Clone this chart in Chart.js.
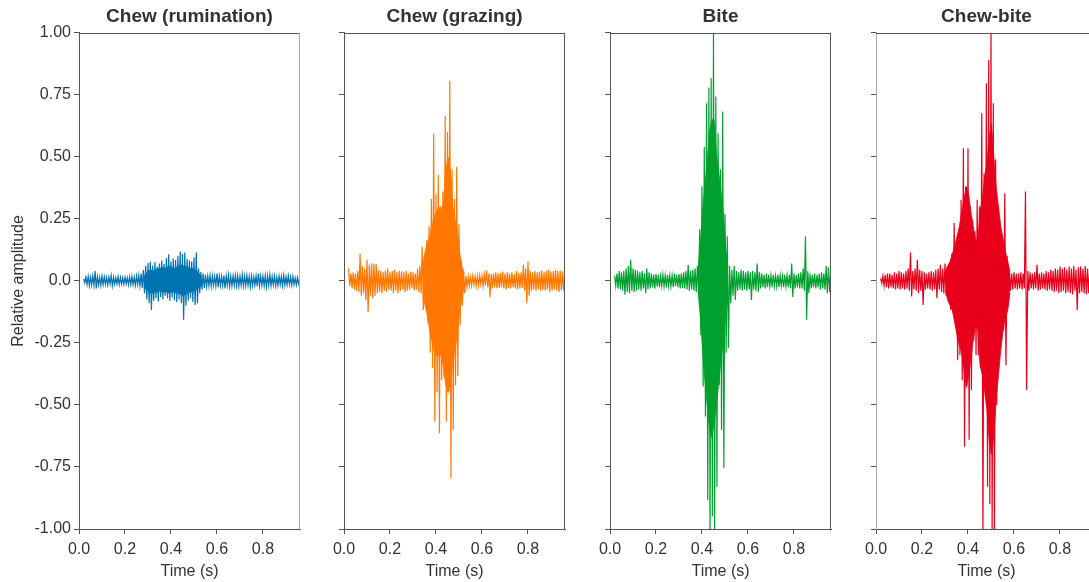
<!DOCTYPE html>
<html><head><meta charset="utf-8">
<script src="https://cdn.jsdelivr.net/npm/chart.js@4.4.1/dist/chart.umd.min.js"></script>
<style>
html,body{margin:0;padding:0;overflow:hidden;background:#fff;width:1089px;height:582px;position:relative;}
canvas{position:absolute;top:0;}
</style></head><body>
<canvas id="c0"></canvas><canvas id="c1"></canvas><canvas id="c2"></canvas><canvas id="c3"></canvas>
<script>
// ---- data ----
const panelTitles = ["Chew (rumination)", "Chew (grazing)", "Bite", "Chew-bite"];
const seriesColors = ["#0173B2", "#FF7700", "#00A02E", "#E8001C"];
const xTickValues = [0, 0.2, 0.4, 0.6, 0.8];
const xTickLabels = ["0.0", "0.2", "0.4", "0.6", "0.8"];
const yTickValues = [-1, -0.75, -0.5, -0.25, 0, 0.25, 0.5, 0.75, 1];
const yTickLabels = ["-1.00", "-0.75", "-0.50", "-0.25", "0.0", "0.25", "0.50", "0.75", "1.00"];
const binStart = 0.02;   // seconds, first bin
const binWidth = 0.01;   // seconds per bin (each bin: max and min amplitude)

// peak envelope per bin (max / min)
const ruminationHi = [
0.008,0.016,0.018,0.015,0.020,0.040,0.017,0.014,0.020,0.016,
0.014,0.016,0.022,0.015,0.013,0.017,0.014,0.012,0.016,0.013,
0.016,0.018,0.015,0.020,0.022,0.030,0.045,0.060,0.072,0.078,
0.062,0.076,0.058,0.070,0.082,0.068,0.092,0.107,0.078,0.090,
0.084,0.100,0.118,0.108,0.114,0.088,0.082,0.078,0.095,0.114,
0.050,0.036,0.030,0.025,0.020,0.022,0.020,0.018,0.030,0.020,
0.018,0.022,0.020,0.025,0.018,0.020,0.022,0.020,0.018,0.025,
0.020,0.022,0.018,0.020,0.016,0.020,0.030,0.020,0.018,0.022,
0.020,0.025,0.018,0.020,0.015,0.020,0.018,0.022,0.016,0.020,
0.015,0.018,0.012,0.014,0.010];
const ruminationLo = [
-0.008,-0.015,-0.020,-0.016,-0.018,-0.030,-0.016,-0.018,-0.015,-0.014,
-0.016,-0.013,-0.020,-0.014,-0.012,-0.015,-0.013,-0.014,-0.012,-0.015,
-0.014,-0.016,-0.018,-0.015,-0.020,-0.028,-0.050,-0.075,-0.090,-0.117,
-0.080,-0.070,-0.083,-0.065,-0.075,-0.060,-0.070,-0.080,-0.068,-0.078,
-0.085,-0.075,-0.090,-0.157,-0.100,-0.080,-0.070,-0.085,-0.097,-0.090,
-0.050,-0.035,-0.028,-0.022,-0.020,-0.022,-0.018,-0.020,-0.025,-0.018,
-0.020,-0.030,-0.018,-0.022,-0.020,-0.018,-0.020,-0.022,-0.018,-0.020,
-0.020,-0.018,-0.025,-0.020,-0.018,-0.022,-0.020,-0.018,-0.020,-0.025,
-0.018,-0.020,-0.016,-0.020,-0.018,-0.015,-0.020,-0.018,-0.016,-0.015,
-0.018,-0.014,-0.016,-0.012,-0.010];

const grazingHi = [
0.050,0.030,0.035,0.030,0.040,0.109,0.060,0.050,0.085,0.065,
0.070,0.070,0.068,0.045,0.040,0.035,0.040,0.050,0.035,0.040,
0.045,0.035,0.040,0.038,0.035,0.040,0.030,0.038,0.035,0.030,
0.050,0.060,0.138,0.100,0.165,0.220,0.330,0.593,0.350,0.427,
0.300,0.360,0.665,0.600,0.806,0.450,0.330,0.460,0.230,0.085,
0.040,0.020,0.018,0.015,0.020,0.018,0.020,0.022,0.020,0.025,
0.042,0.030,0.028,0.030,0.035,0.030,0.032,0.038,0.030,0.035,
0.030,0.035,0.028,0.040,0.032,0.035,0.065,0.050,0.078,0.040,
0.035,0.040,0.035,0.038,0.042,0.035,0.040,0.045,0.038,0.040,
0.045,0.040,0.042,0.038,0.040];
const grazingLo = [
-0.020,-0.030,-0.035,-0.040,-0.045,-0.060,-0.050,-0.077,-0.126,-0.060,
-0.070,-0.060,-0.050,-0.045,-0.050,-0.040,-0.045,-0.035,-0.040,-0.050,
-0.040,-0.050,-0.040,-0.035,-0.045,-0.040,-0.035,-0.030,-0.040,-0.035,
-0.045,-0.050,-0.117,-0.100,-0.170,-0.290,-0.350,-0.567,-0.450,-0.614,
-0.400,-0.386,-0.567,-0.450,-0.796,-0.600,-0.420,-0.383,-0.180,-0.100,
-0.050,-0.025,-0.020,-0.018,-0.015,-0.020,-0.018,-0.015,-0.020,-0.018,
-0.025,-0.066,-0.030,-0.025,-0.030,-0.028,-0.025,-0.030,-0.035,-0.028,
-0.030,-0.025,-0.030,-0.035,-0.030,-0.028,-0.040,-0.090,-0.060,-0.040,
-0.035,-0.040,-0.035,-0.040,-0.038,-0.040,-0.035,-0.045,-0.040,-0.035,
-0.040,-0.045,-0.038,-0.040,-0.040];

const biteHi = [
0.020,0.030,0.040,0.035,0.040,0.050,0.060,0.085,0.050,0.045,
0.040,0.035,0.040,0.030,0.050,0.035,0.030,0.025,0.028,0.025,
0.020,0.025,0.022,0.025,0.020,0.022,0.030,0.025,0.028,0.030,
0.035,0.040,0.065,0.040,0.045,0.050,0.060,0.208,0.380,0.540,
0.716,0.780,0.817,1.020,0.743,0.595,0.450,0.683,0.270,0.180,
0.060,0.045,0.060,0.040,0.035,0.045,0.040,0.035,0.040,0.035,
0.040,0.035,0.070,0.035,0.030,0.025,0.030,0.025,0.022,0.025,
0.020,0.025,0.022,0.020,0.025,0.022,0.025,0.070,0.030,0.025,
0.030,0.035,0.050,0.180,0.040,0.030,0.025,0.030,0.025,0.030,
0.035,0.030,0.060,0.055,0.040];
const biteLo = [
-0.020,-0.030,-0.035,-0.040,-0.056,-0.045,-0.050,-0.040,-0.045,-0.040,
-0.035,-0.040,-0.030,-0.050,-0.035,-0.030,-0.025,-0.030,-0.022,-0.025,
-0.020,-0.022,-0.025,-0.020,-0.022,-0.025,-0.020,-0.025,-0.030,-0.028,
-0.030,-0.035,-0.040,-0.035,-0.040,-0.045,-0.050,-0.218,-0.426,-0.547,
-0.883,-1.050,-0.950,-1.050,-0.830,-0.420,-0.600,-0.755,-0.290,-0.270,
-0.090,-0.060,-0.077,-0.040,-0.035,-0.040,-0.035,-0.040,-0.035,-0.077,
-0.035,-0.040,-0.045,-0.030,-0.025,-0.030,-0.025,-0.022,-0.025,-0.020,
-0.022,-0.025,-0.020,-0.025,-0.022,-0.025,-0.030,-0.065,-0.030,-0.025,
-0.030,-0.030,-0.040,-0.157,-0.050,-0.030,-0.025,-0.030,-0.025,-0.035,
-0.030,-0.035,-0.050,-0.045,-0.040];

const chewBiteHi = [
0.010,0.020,0.025,0.030,0.030,0.025,0.035,0.030,0.040,0.035,
0.030,0.040,0.050,0.114,0.040,0.050,0.085,0.045,0.040,0.035,
0.030,0.035,0.040,0.035,0.045,0.050,0.065,0.050,0.070,0.060,
0.070,0.110,0.233,0.150,0.200,0.327,0.535,0.380,0.535,0.300,
0.246,0.200,0.327,0.300,0.676,0.434,0.797,0.890,1.050,0.716,
0.490,0.300,0.220,0.160,0.353,0.100,0.040,0.030,0.035,0.030,
0.030,0.035,0.030,0.360,0.040,0.035,0.030,0.035,0.065,0.030,
0.035,0.030,0.040,0.035,0.045,0.040,0.050,0.045,0.058,0.050,
0.055,0.045,0.058,0.050,0.060,0.045,0.055,0.058,0.050,0.060,
0.050,0.058,0.045,0.050,0.040];
const chewBiteLo = [
-0.010,-0.020,-0.025,-0.030,-0.025,-0.030,-0.035,-0.030,-0.035,-0.030,
-0.035,-0.030,-0.040,-0.063,-0.035,-0.040,-0.050,-0.040,-0.097,-0.035,
-0.030,-0.035,-0.040,-0.035,-0.070,-0.035,-0.045,-0.050,-0.060,-0.070,
-0.117,-0.130,-0.170,-0.320,-0.300,-0.400,-0.668,-0.426,-0.640,-0.440,
-0.240,-0.300,-0.300,-0.350,-1.050,-0.430,-0.830,-0.900,-1.050,-1.050,
-0.500,-0.300,-0.240,-0.200,-0.340,-0.100,-0.040,-0.035,-0.030,-0.035,
-0.030,-0.035,-0.030,-0.440,-0.040,-0.030,-0.035,-0.030,-0.040,-0.035,
-0.030,-0.035,-0.040,-0.035,-0.040,-0.045,-0.040,-0.050,-0.045,-0.040,
-0.050,-0.045,-0.050,-0.055,-0.040,-0.117,-0.050,-0.045,-0.050,-0.055,
-0.050,-0.045,-0.050,-0.040,-0.045];

// dense (solid) core of each burst, same 0.01 s bins, starting at coreStart
const ruminationCoreStart = 0.28;
const ruminationCoreHi = [0.020,0.030,0.040,0.045,0.040,0.045,0.050,0.050,0.055,0.050,0.055,0.060,0.055,0.050,0.055,0.060,0.065,0.060,0.060,0.055,0.050,0.050,0.045,0.040,0.030,0.020];
const ruminationCoreLo = [-0.020,-0.035,-0.045,-0.050,-0.050,-0.045,-0.045,-0.040,-0.045,-0.045,-0.045,-0.050,-0.045,-0.045,-0.050,-0.050,-0.055,-0.060,-0.055,-0.050,-0.045,-0.045,-0.040,-0.035,-0.025,-0.020];
const grazingCoreStart = 0.34;
const grazingCoreHi = [0.060,0.120,0.150,0.180,0.220,0.260,0.280,0.300,0.280,0.320,0.450,0.500,0.450,0.300,0.250,0.200,0.120,0.060,0.030];
const grazingCoreLo = [-0.060,-0.100,-0.140,-0.200,-0.240,-0.280,-0.300,-0.300,-0.300,-0.350,-0.420,-0.450,-0.420,-0.330,-0.280,-0.220,-0.130,-0.060,-0.030];
const biteCoreStart = 0.38;
const biteCoreHi = [0.040,0.150,0.280,0.380,0.480,0.600,0.650,0.650,0.520,0.440,0.360,0.280,0.140,0.060];
const biteCoreLo = [-0.040,-0.140,-0.280,-0.400,-0.500,-0.600,-0.630,-0.580,-0.500,-0.420,-0.320,-0.240,-0.150,-0.070];
const chewBiteCoreStart = 0.30;
const chewBiteCoreHi = [0.040,0.060,0.080,0.110,0.140,0.180,0.220,0.280,0.330,0.380,0.350,0.280,0.220,0.170,0.160,0.280,0.330,0.420,0.480,0.580,0.630,0.500,0.380,0.300,0.220,0.170,0.120,0.080,0.040];
const chewBiteCoreLo = [-0.040,-0.080,-0.100,-0.120,-0.170,-0.220,-0.260,-0.290,-0.360,-0.430,-0.380,-0.320,-0.240,-0.180,-0.200,-0.340,-0.380,-0.450,-0.520,-0.650,-0.700,-0.630,-0.480,-0.380,-0.280,-0.200,-0.150,-0.120,-0.050];

const panelHi = [ruminationHi, grazingHi, biteHi, chewBiteHi];
const panelLo = [ruminationLo, grazingLo, biteLo, chewBiteLo];
const panelCoreStart = [ruminationCoreStart, grazingCoreStart, biteCoreStart, chewBiteCoreStart];
const panelCoreHi = [ruminationCoreHi, grazingCoreHi, biteCoreHi, chewBiteCoreHi];
const panelCoreLo = [ruminationCoreLo, grazingCoreLo, biteCoreLo, chewBiteCoreLo];

// ---- layout ----
const plotLefts = [79, 344, 610, 876];
const plotWidth = 221;
const canvasH = 582;
const xMax = 0.961;
const FONT = "'Liberation Sans', Arial, Helvetica, sans-serif";
const TXT = "#333333";
const SPINE = "#555555";
const spineColors = [
  {left: SPINE, top: SPINE, right: "#aaaaaa"},
  {left: SPINE, top: SPINE, right: SPINE},
  {left: SPINE, top: SPINE, right: SPINE},
  {left: "#aaaaaa", top: SPINE, right: SPINE}
];

const framePlugin = {
  id: 'frame',
  afterDatasetsDraw(chart, args, opts) {
    const a = chart.chartArea, ctx = chart.ctx;
    ctx.save();
    ctx.lineWidth = 1;
    const top = Math.round(a.top) + 0.5;
    const right = Math.round(a.right) - 0.5;
    ctx.strokeStyle = opts.top;
    ctx.beginPath(); ctx.moveTo(a.left, top); ctx.lineTo(a.right, top); ctx.stroke();
    ctx.strokeStyle = opts.right;
    ctx.beginPath(); ctx.moveTo(right, a.top); ctx.lineTo(right, a.bottom); ctx.stroke();
    ctx.restore();
  }
};

for (let p = 0; p < 4; p++) {
  const yw = p === 0 ? 79 : 20;
  const rp = 4;
  const cv = document.getElementById('c' + p);
  cv.width = yw + plotWidth + rp;
  cv.height = canvasH;
  cv.style.left = (plotLefts[p] - yw) + 'px';
  cv.style.width = cv.width + 'px';
  cv.style.height = canvasH + 'px';

  const pts = [];
  const hi = panelHi[p], lo = panelLo[p];
  for (let i = 0; i < hi.length; i++) {
    const t = binStart + i * binWidth;
    pts.push({x: t, y: hi[i]});
    pts.push({x: t + binWidth / 2, y: lo[i]});
  }
  const cHi = panelCoreHi[p].map((v, i) => ({x: panelCoreStart[p] + i * binWidth + binWidth / 4, y: v}));
  const cLo = panelCoreLo[p].map((v, i) => ({x: panelCoreStart[p] + i * binWidth + binWidth / 4, y: v}));

  new Chart(cv, {
    type: 'line',
    data: {datasets: [
      {data: pts, borderColor: seriesColors[p], borderWidth: 1.2, pointRadius: 0, tension: 0, fill: false, order: 0},
      {data: cHi, borderColor: seriesColors[p], borderWidth: 0.8, backgroundColor: seriesColors[p], pointRadius: 0, tension: 0, fill: '+1', order: 1},
      {data: cLo, borderColor: seriesColors[p], borderWidth: 0.8, pointRadius: 0, tension: 0, fill: false, order: 2}
    ]},
    plugins: [framePlugin],
    options: {
      responsive: false,
      animation: false,
      events: [],
      layout: {padding: {left: 0, right: rp, top: 0, bottom: 0}},
      plugins: {
        legend: {display: false},
        tooltip: {enabled: false},
        filler: {propagate: false},
        title: {
          display: true, text: panelTitles[p], color: TXT, fullSize: false,
          font: {family: FONT, size: 19, weight: 'bold', lineHeight: 1.2},
          padding: {top: 5, bottom: 5}
        },
        frame: spineColors[p]
      },
      scales: {
        x: {
          type: 'linear', min: 0, max: xMax,
          afterFit: s => { s.height = 53; },
          afterBuildTicks: s => { s.ticks = xTickValues.map(v => ({value: v})); },
          ticks: {
            color: TXT, font: {family: FONT, size: 16}, padding: 6, maxRotation: 0,
            callback: v => { const k = xTickValues.indexOf(v); return k >= 0 ? xTickLabels[k] : ''; }
          },
          grid: {display: true, drawOnChartArea: false, drawTicks: true, tickLength: 5, color: SPINE},
          border: {display: true, color: SPINE},
          title: {display: true, text: 'Time (s)', color: TXT, font: {family: FONT, size: 16}, padding: {top: 0, bottom: 1}}
        },
        y: {
          type: 'linear', min: -1, max: 1,
          afterFit: s => { s.width = yw; },
          afterBuildTicks: s => { s.ticks = yTickValues.map(v => ({value: v})); },
          ticks: {
            color: TXT, font: {family: FONT, size: 16}, padding: 3,
            callback: v => { if (p !== 0) return ''; const k = yTickValues.indexOf(v); return k >= 0 ? yTickLabels[k] : ''; }
          },
          grid: {display: true, drawOnChartArea: false, drawTicks: true, tickLength: 5, color: SPINE},
          border: {display: true, color: spineColors[p].left},
          title: {display: p === 0, text: 'Relative amplitude', color: TXT, font: {family: FONT, size: 16}, padding: {top: 9, bottom: 0}}
        }
      }
    }
  });
}
</script>
</body></html>
